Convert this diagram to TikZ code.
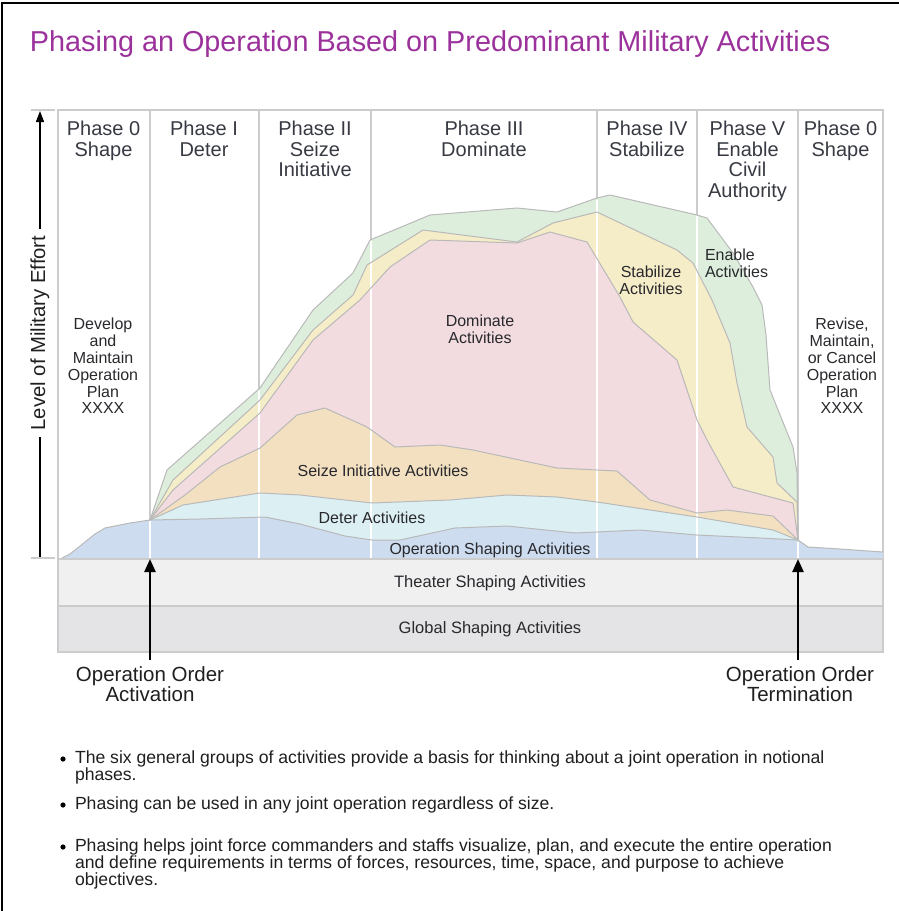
\documentclass[tikz,border=0pt]{standalone}
\usepackage{fontspec}
\setmainfont{Liberation Sans}
\usetikzlibrary{arrows.meta}
\definecolor{titlec}{RGB}{155,50,155}
\definecolor{hdrc}{RGB}{55,58,66}
\definecolor{labc}{RGB}{40,40,45}
\definecolor{gridc}{RGB}{204,204,204}
\definecolor{edgec}{RGB}{185,185,185}
\definecolor{cgreen}{RGB}{222,238,221}
\definecolor{cyellow}{RGB}{245,236,200}
\definecolor{cpink}{RGB}{242,220,224}
\definecolor{ctan}{RGB}{242,224,192}
\definecolor{ccyan}{RGB}{220,240,244}
\definecolor{cblue}{RGB}{205,220,238}
\definecolor{cbarA}{RGB}{240,240,240}
\definecolor{cbarB}{RGB}{228,228,230}
\begin{document}
\begin{tikzpicture}[x=1pt,y=-1pt,
  every node/.style={inner sep=0pt,outer sep=0pt},
  framel/.style={draw=black,line width=1.6pt},
  gridl/.style={draw=gridc,line width=1.8pt},
  edgel/.style={draw=edgec,line width=1pt,line join=round},
  wline/.style={draw=white,line width=2.6pt},
  hdr/.style={font=\fontsize{20}{20.7}\selectfont,text=hdrc,align=center,anchor=north},
  arealab/.style={font=\fontsize{16}{16.8}\selectfont,text=labc,align=center},
  barlab/.style={font=\fontsize{16.5}{17}\selectfont,text=labc},
  biglab/.style={font=\fontsize{20.5}{18.5}\selectfont,text=black!88,align=center},
  bul/.style={font=\fontsize{17.6}{17}\selectfont,text=black!88,align=left,anchor=north west},
  bigarrow/.style={-{Triangle[length=13pt,width=11pt]},line width=2.4pt,black},
  axarrow/.style={-{Triangle[length=11pt,width=8pt]},line width=1.5pt,black},
]
\useasboundingbox (0,0) rectangle (899,911);
% outer frame
\draw[framel] (2,911) -- (2,3) -- (899,3);
% title
\node[anchor=north west,font=\fontsize{28.8}{30}\selectfont,text=titlec] (title) at (30,31) {Phasing an Operation Based on Predominant Military Activities};

% area outlines
\def\greentop{(150,520) -- (167,470) -- (260,388) -- (313,310) -- (353,273) -- (370,240) -- (430,215) -- (517,208) -- (557,212) -- (597,198) -- (610,195) -- (697,215) -- (707,218) -- (733,253) -- (753,287) -- (762,305) -- (766,335) -- (770,390) -- (793,447) -- (797,473) -- (798,540)}
\def\yellowtop{(150,520) -- (173,480) -- (260,400) -- (313,330) -- (353,295) -- (367,265) -- (423,230) -- (517,242) -- (553,223) -- (597,212) -- (677,250) -- (693,263) -- (712,300) -- (730,343) -- (737,383) -- (747,427) -- (773,457) -- (777,483) -- (797,502) -- (798,540)}
\def\pinktop{(150,520) -- (173,490) -- (260,413) -- (313,340) -- (360,300) -- (390,267) -- (430,240) -- (517,243) -- (550,232) -- (587,242) -- (620,297) -- (633,322) -- (677,360) -- (697,420) -- (707,440) -- (733,487) -- (793,503) -- (798,540)}
\def\tantop{(150,520) -- (185,495) -- (220,467) -- (260,448) -- (297,415) -- (325,408) -- (367,427) -- (395,447) -- (440,445) -- (473,450) -- (557,468) -- (617,471) -- (650,500) -- (697,513) -- (727,510) -- (773,516) -- (798,540)}
\def\cyantop{(150,520) -- (183,505) -- (260,493) -- (300,495) -- (372,503) -- (450,500) -- (507,495) -- (557,497) -- (597,502) -- (650,510) -- (697,517) -- (773,530) -- (798,540)}
\def\bluetop{(62,558) -- (70,554) -- (80,546) -- (95,534) -- (105,528) -- (130,523) -- (150,520) -- (200,519) -- (265,517) -- (300,524) -- (345,536) -- (372,540) -- (400,540) -- (455,528) -- (507,526) -- (575,533) -- (640,530) -- (697,535) -- (760,538) -- (798,540) -- (808,547) -- (840,549) -- (883,552)}

% grid (header box and phase separators)
\draw[gridl] (58,558) -- (58,110) -- (883,110) -- (883,652);
\foreach \xx in {150,259,371,597,697,798} { \draw[gridl] (\xx,110) -- (\xx,558); }

% fills
\fill[cgreen] \greentop -- (798,558) -- (150,558) -- cycle;
\fill[cyellow] \yellowtop -- (798,558) -- (150,558) -- cycle;
\fill[cpink] \pinktop -- (798,558) -- (150,558) -- cycle;
\fill[ctan] \tantop -- (798,558) -- (150,558) -- cycle;
\fill[ccyan] \cyantop -- (798,558) -- (150,558) -- cycle;
\fill[cblue] \bluetop -- (883,558) -- cycle;

% white separators through the areas
\draw[wline] (150,521) -- (150,558);
\draw[wline] (259,390) -- (259,558);
\draw[wline] (371,241) -- (371,558);
\draw[wline] (597,200) -- (597,558);
\draw[wline] (697,216) -- (697,558);
\draw[wline] (798,542) -- (798,558);

% outlines
\draw[edgel] \greentop;
\draw[edgel] \yellowtop;
\draw[edgel] \pinktop;
\draw[edgel] \tantop;
\draw[edgel] \cyantop;
\draw[edgel] \bluetop;

% bars
\draw[draw=gridc,line width=1.2pt,fill=cbarA] (58,559) rectangle (883,606);
\draw[draw=gridc,line width=1.2pt,fill=cbarB] (58,606) rectangle (883,652);
\node[barlab] (theater) at (490,583) {Theater Shaping Activities};
\node[barlab] (global) at (490,629) {Global Shaping Activities};

% phase headers
\node[hdr] (h0) at (103.5,121) {Phase 0\\Shape};
\node[hdr] (h1) at (204,121) {Phase I\\Deter};
\node[hdr] (h2) at (315,121) {Phase II\\Seize\\Initiative};
\node[hdr] (h3) at (484,121) {Phase III\\Dominate};
\node[hdr] (h4) at (647,121) {Phase IV\\Stabilize};
\node[hdr] (h5) at (747.5,121) {Phase V\\Enable\\Civil\\Authority};
\node[hdr] (h6) at (840.5,121) {Phase 0\\Shape};

% area labels
\node[arealab] (dev) at (103,366) {Develop\\and\\Maintain\\Operation\\Plan\\XXXX};
\node[arealab] (rev) at (842,366) {Revise,\\Maintain,\\or Cancel\\Operation\\Plan\\XXXX};
\node[arealab] (dom) at (480,329) {Dominate\\Activities};
\node[arealab] (stab) at (651,280) {Stabilize\\Activities};
\node[arealab,align=left,anchor=west] (enab) at (705,263) {Enable\\Activities};
\node[arealab] (seize) at (383,471) {Seize Initiative Activities};
\node[arealab] (deter) at (372,518) {Deter Activities};
\node[arealab] (opshape) at (490,550) {Operation Shaping Activities};

% axis
\draw[draw=gridc,line width=2pt] (31,110) -- (55,110);
\draw[draw=gridc,line width=2pt] (31,558) -- (55,558);
\coordinate (axtop) at (40,111);
\coordinate (axbot) at (40,557);
\node[font=\fontsize{20.3}{20}\selectfont,text=black!88,rotate=90] (axlab) at (40,333) {Level of Military Effort};
\draw[axarrow] ([yshift=7pt]axlab.east) -- (axtop);
\draw[line width=1.5pt,black] ([yshift=-7pt]axlab.west) -- (axbot);

% order arrows
\coordinate (actfoot) at (150,660);
\coordinate (actpt) at (150,559);
\coordinate (termfoot) at (798,660);
\coordinate (termpt) at (798,559);
\draw[bigarrow] (actfoot) -- (actpt);
\draw[bigarrow] (termfoot) -- (termpt);
\node[biglab,anchor=north] (actlab) at (150,667) {Operation Order\\Activation};
\node[biglab,anchor=north] (termlab) at (800,667) {Operation Order\\Termination};

% bullets
\fill[black] (63,759) circle[radius=2.6pt];
\fill[black] (63,805) circle[radius=2.6pt];
\fill[black] (63,847) circle[radius=2.6pt];
\node[bul] (b1) at (75,751) {The six general groups of activities provide a basis for thinking about a joint operation in notional\\phases.};
\node[bul] (b2) at (75,797) {Phasing can be used in any joint operation regardless of size.};
\node[bul] (b3) at (75,839) {Phasing helps joint force commanders and staffs visualize, plan, and execute the entire operation\\and define requirements in terms of forces, resources, time, space, and purpose to achieve\\objectives.};
\end{tikzpicture}
\end{document}
